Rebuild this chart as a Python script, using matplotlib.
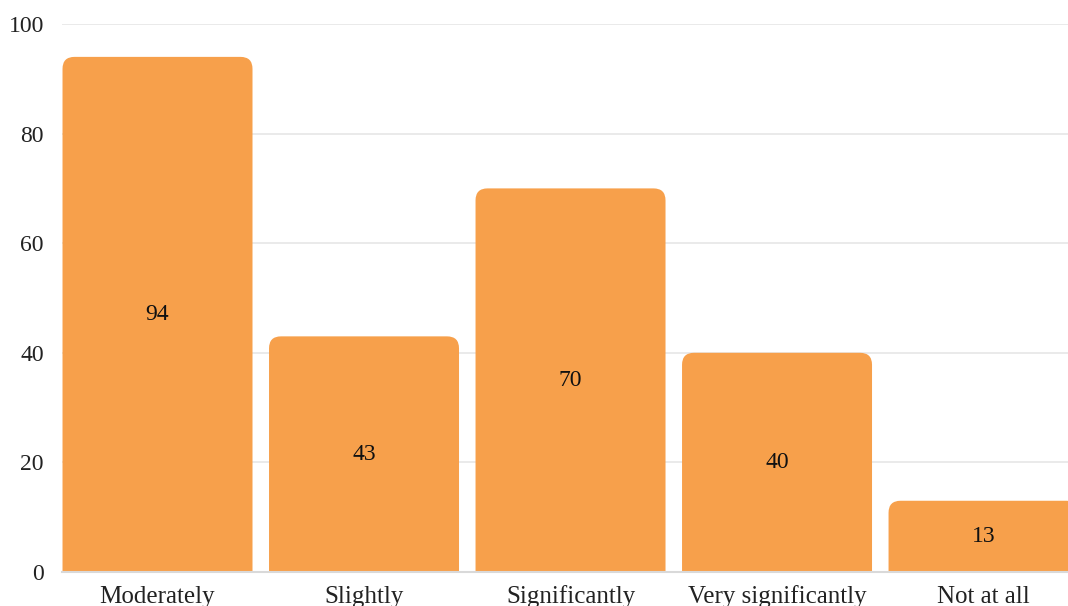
import matplotlib
matplotlib.use("Agg")
import matplotlib.pyplot as plt
from matplotlib.path import Path
from matplotlib.patches import PathPatch

categories = ["Moderately", "Slightly", "Significantly", "Very significantly", "Not at all"]
counts = [94, 43, 70, 40, 13]
yticks = [0, 20, 40, 60, 80, 100]

plt.rcParams['font.family'] = ['Liberation Serif', 'DejaVu Serif']
bar_color = '#F7A04B'


def rounded_top(x0, w, h, rx, ry):
    # rectangle with rounded top corners (quadratic curves)
    x1 = x0 + w
    verts = [(x0, 0), (x0, h - ry), (x0, h), (x0 + rx, h),
             (x1 - rx, h), (x1, h), (x1, h - ry), (x1, 0), (x0, 0)]
    codes = [Path.MOVETO, Path.LINETO, Path.CURVE3, Path.CURVE3,
             Path.LINETO, Path.CURVE3, Path.CURVE3, Path.LINETO, Path.CLOSEPOLY]
    return Path(verts, codes)


fig = plt.figure(figsize=(10.68, 6.06), dpi=100)
ax = fig.add_axes([62 / 1068, 34 / 606, 1 - 62 / 1068, (572 - 24) / 606])

xs = list(range(len(categories)))
bars = ax.bar(xs, counts, width=0.92, color=bar_color)
ax.set_xlim(-0.4625, 4.409)
ax.set_ylim(0, 100)

# px per data unit, for the corner radius
px_x = 206.5
px_y = 548 / 100
rad = 12
for b in bars:
    b.set_visible(False)
    p = rounded_top(b.get_x(), b.get_width(), b.get_height(), rad / px_x, rad / px_y)
    ax.add_patch(PathPatch(p, facecolor=bar_color, edgecolor='none', zorder=2))

for x, v in zip(xs, counts):
    ax.text(x, v / 2, str(v), ha='center', va='center', fontsize=17, color='#111111', zorder=3)

ax.set_yticks(yticks)
ax.set_yticklabels([str(t) for t in yticks], fontsize=17, color='#222222')
ax.set_xticks(xs)
ax.set_xticklabels(categories, fontsize=18, color='#222222')
ax.tick_params(axis='both', length=0)
ax.tick_params(axis='x', pad=22)
ax.tick_params(axis='y', pad=13)
for lbl in ax.get_xticklabels():
    lbl.set_verticalalignment('baseline')
for lbl in ax.get_yticklabels():
    lbl.set_horizontalalignment('right')

ax.grid(axis='y', color='#e6e6e6', linewidth=1.2, zorder=0)
ax.set_axisbelow(True)
for s in ['top', 'right', 'left']:
    ax.spines[s].set_visible(False)
ax.spines['bottom'].set_color('#d9d9d9')
ax.spines['bottom'].set_linewidth(1.5)

fig.savefig("out.png", dpi=100)
